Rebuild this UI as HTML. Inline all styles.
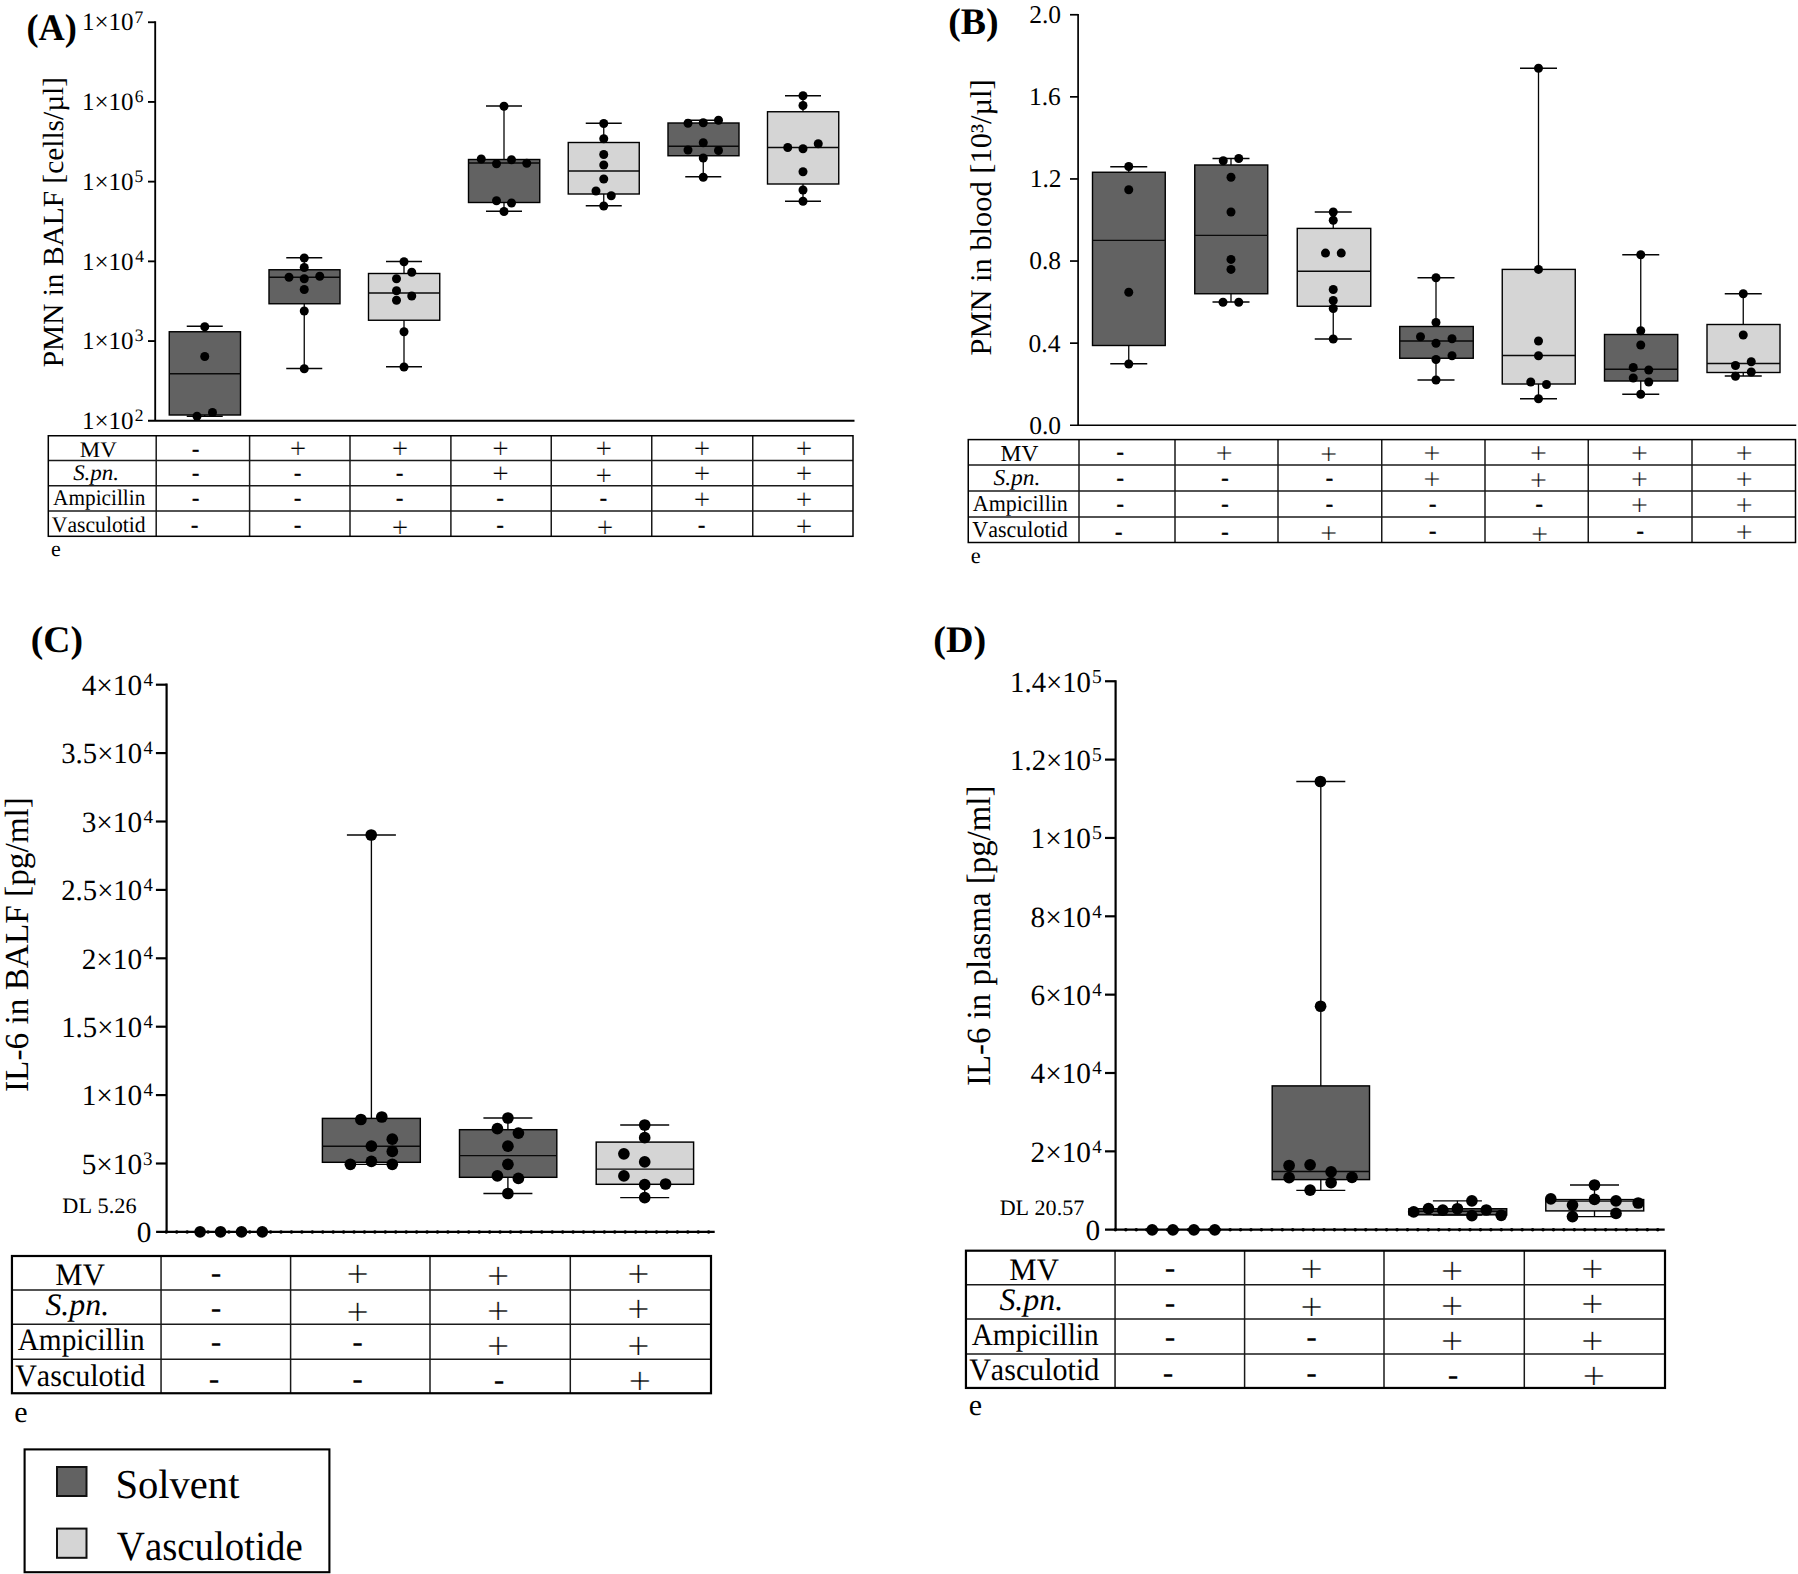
<!DOCTYPE html>
<html lang="en"><head><meta charset="utf-8"><title>Figure</title>
<style>
html,body{margin:0;padding:0;background:#fff}
svg{display:block}
text{font-family:"Liberation Serif",serif;fill:#000;font-kerning:none;text-rendering:geometricPrecision}
</style></head><body>
<svg width="1798" height="1574" viewBox="0 0 1798 1574">
<rect width="1798" height="1574" fill="#fff"/>
<g id="panelA">
<line x1="155.20" y1="21.25" x2="155.20" y2="420.75" stroke="#000" stroke-width="1.85"/>
<line x1="148.00" y1="420.75" x2="854.50" y2="420.75" stroke="#000" stroke-width="1.85"/>
<line x1="148.00" y1="22.25" x2="155.20" y2="22.25" stroke="#000" stroke-width="1.85"/>
<line x1="148.00" y1="101.95" x2="155.20" y2="101.95" stroke="#000" stroke-width="1.85"/>
<line x1="148.00" y1="181.65" x2="155.20" y2="181.65" stroke="#000" stroke-width="1.85"/>
<line x1="148.00" y1="261.35" x2="155.20" y2="261.35" stroke="#000" stroke-width="1.85"/>
<line x1="148.00" y1="341.05" x2="155.20" y2="341.05" stroke="#000" stroke-width="1.85"/>
<text transform="translate(81.95,30.45)" font-size="25">1×10<tspan x="52.49" y="-7.80" font-size="17.5">7</tspan></text>
<text transform="translate(81.95,110.15)" font-size="25">1×10<tspan x="52.90" y="-7.80" font-size="17.5">6</tspan></text>
<text transform="translate(81.95,189.85)" font-size="25">1×10<tspan x="52.63" y="-7.80" font-size="17.5">5</tspan></text>
<text transform="translate(81.95,269.55)" font-size="25">1×10<tspan x="53.31" y="-7.80" font-size="17.5">4</tspan></text>
<text transform="translate(81.95,349.25)" font-size="25">1×10<tspan x="52.81" y="-7.80" font-size="17.5">3</tspan></text>
<text transform="translate(81.95,428.95)" font-size="25">1×10<tspan x="52.88" y="-7.80" font-size="17.5">2</tspan></text>
<text transform="translate(62.80,367.35) rotate(-90) scale(1.0069,1)" font-size="29.2">PMN in BALF [cells/µl]</text>
<text transform="translate(26.40,39.60) scale(0.9680,1)" font-size="37.5" font-weight="bold">(A)</text>
<line x1="204.75" y1="326.25" x2="204.75" y2="331.75" stroke="#050505" stroke-width="1.3"/>
<line x1="186.75" y1="326.25" x2="222.75" y2="326.25" stroke="#050505" stroke-width="1.3"/>
<line x1="204.75" y1="415.00" x2="204.75" y2="416.25" stroke="#050505" stroke-width="1.3"/>
<line x1="186.75" y1="416.25" x2="222.75" y2="416.25" stroke="#050505" stroke-width="1.3"/>
<rect x="169.25" y="331.75" width="71.25" height="83.25" fill="#626262" stroke="#000" stroke-width="1.4000000000000001"/>
<line x1="169.25" y1="373.75" x2="240.50" y2="373.75" stroke="#0a0a0a" stroke-width="1.3"/>
<line x1="304.25" y1="257.75" x2="304.25" y2="269.75" stroke="#050505" stroke-width="1.3"/>
<line x1="286.25" y1="257.75" x2="322.25" y2="257.75" stroke="#050505" stroke-width="1.3"/>
<line x1="304.25" y1="303.75" x2="304.25" y2="368.50" stroke="#050505" stroke-width="1.3"/>
<line x1="286.25" y1="368.50" x2="322.25" y2="368.50" stroke="#050505" stroke-width="1.3"/>
<rect x="269.00" y="269.75" width="71.00" height="34.00" fill="#626262" stroke="#000" stroke-width="1.4000000000000001"/>
<line x1="269.00" y1="277.25" x2="340.00" y2="277.25" stroke="#0a0a0a" stroke-width="1.3"/>
<line x1="404.00" y1="261.50" x2="404.00" y2="273.50" stroke="#050505" stroke-width="1.3"/>
<line x1="386.00" y1="261.50" x2="422.00" y2="261.50" stroke="#050505" stroke-width="1.3"/>
<line x1="404.00" y1="320.25" x2="404.00" y2="366.75" stroke="#050505" stroke-width="1.3"/>
<line x1="386.00" y1="366.75" x2="422.00" y2="366.75" stroke="#050505" stroke-width="1.3"/>
<rect x="368.50" y="273.50" width="71.25" height="46.75" fill="#d5d5d5" stroke="#000" stroke-width="1.4000000000000001"/>
<line x1="368.50" y1="293.00" x2="439.75" y2="293.00" stroke="#0a0a0a" stroke-width="1.3"/>
<line x1="504.00" y1="106.00" x2="504.00" y2="159.50" stroke="#050505" stroke-width="1.3"/>
<line x1="486.00" y1="106.00" x2="522.00" y2="106.00" stroke="#050505" stroke-width="1.3"/>
<line x1="504.00" y1="202.50" x2="504.00" y2="211.25" stroke="#050505" stroke-width="1.3"/>
<line x1="486.00" y1="211.25" x2="522.00" y2="211.25" stroke="#050505" stroke-width="1.3"/>
<rect x="468.50" y="159.50" width="71.25" height="43.00" fill="#626262" stroke="#000" stroke-width="1.4000000000000001"/>
<line x1="468.50" y1="163.00" x2="539.75" y2="163.00" stroke="#0a0a0a" stroke-width="1.3"/>
<line x1="603.75" y1="123.25" x2="603.75" y2="142.50" stroke="#050505" stroke-width="1.3"/>
<line x1="585.75" y1="123.25" x2="621.75" y2="123.25" stroke="#050505" stroke-width="1.3"/>
<line x1="603.75" y1="194.00" x2="603.75" y2="205.75" stroke="#050505" stroke-width="1.3"/>
<line x1="585.75" y1="205.75" x2="621.75" y2="205.75" stroke="#050505" stroke-width="1.3"/>
<rect x="568.25" y="142.50" width="71.00" height="51.50" fill="#d5d5d5" stroke="#000" stroke-width="1.4000000000000001"/>
<line x1="568.25" y1="171.00" x2="639.25" y2="171.00" stroke="#0a0a0a" stroke-width="1.3"/>
<line x1="703.25" y1="120.25" x2="703.25" y2="123.00" stroke="#050505" stroke-width="1.3"/>
<line x1="685.25" y1="120.25" x2="721.25" y2="120.25" stroke="#050505" stroke-width="1.3"/>
<line x1="703.25" y1="155.75" x2="703.25" y2="176.75" stroke="#050505" stroke-width="1.3"/>
<line x1="685.25" y1="176.75" x2="721.25" y2="176.75" stroke="#050505" stroke-width="1.3"/>
<rect x="668.00" y="123.00" width="71.00" height="32.75" fill="#626262" stroke="#000" stroke-width="1.4000000000000001"/>
<line x1="668.00" y1="146.25" x2="739.00" y2="146.25" stroke="#0a0a0a" stroke-width="1.3"/>
<line x1="803.00" y1="95.75" x2="803.00" y2="111.75" stroke="#050505" stroke-width="1.3"/>
<line x1="785.00" y1="95.75" x2="821.00" y2="95.75" stroke="#050505" stroke-width="1.3"/>
<line x1="803.00" y1="184.00" x2="803.00" y2="201.25" stroke="#050505" stroke-width="1.3"/>
<line x1="785.00" y1="201.25" x2="821.00" y2="201.25" stroke="#050505" stroke-width="1.3"/>
<rect x="767.50" y="111.75" width="71.25" height="72.25" fill="#d5d5d5" stroke="#000" stroke-width="1.4000000000000001"/>
<line x1="767.50" y1="147.50" x2="838.75" y2="147.50" stroke="#0a0a0a" stroke-width="1.3"/>
<circle cx="204.75" cy="326.75" r="4.5"/>
<circle cx="204.75" cy="356.50" r="4.5"/>
<circle cx="212.50" cy="412.50" r="4.5"/>
<circle cx="197.00" cy="416.25" r="4.5"/>
<circle cx="304.25" cy="258.00" r="4.5"/>
<circle cx="304.25" cy="267.50" r="4.5"/>
<circle cx="289.00" cy="277.25" r="4.5"/>
<circle cx="304.25" cy="278.75" r="4.5"/>
<circle cx="319.75" cy="276.25" r="4.5"/>
<circle cx="304.25" cy="289.50" r="4.5"/>
<circle cx="304.25" cy="311.00" r="4.5"/>
<circle cx="304.25" cy="368.75" r="4.5"/>
<circle cx="404.00" cy="261.75" r="4.5"/>
<circle cx="411.75" cy="272.25" r="4.5"/>
<circle cx="396.50" cy="278.75" r="4.5"/>
<circle cx="396.50" cy="290.75" r="4.5"/>
<circle cx="411.75" cy="296.00" r="4.5"/>
<circle cx="396.50" cy="300.25" r="4.5"/>
<circle cx="404.00" cy="331.75" r="4.5"/>
<circle cx="404.00" cy="367.00" r="4.5"/>
<circle cx="504.00" cy="106.25" r="4.5"/>
<circle cx="481.25" cy="159.00" r="4.5"/>
<circle cx="496.50" cy="163.75" r="4.5"/>
<circle cx="511.50" cy="159.75" r="4.5"/>
<circle cx="526.75" cy="163.25" r="4.5"/>
<circle cx="496.50" cy="200.75" r="4.5"/>
<circle cx="511.50" cy="203.00" r="4.5"/>
<circle cx="504.00" cy="211.50" r="4.5"/>
<circle cx="603.75" cy="123.50" r="4.5"/>
<circle cx="603.75" cy="138.75" r="4.5"/>
<circle cx="603.75" cy="154.50" r="4.5"/>
<circle cx="603.75" cy="165.00" r="4.5"/>
<circle cx="603.75" cy="179.00" r="4.5"/>
<circle cx="596.00" cy="191.00" r="4.5"/>
<circle cx="611.25" cy="195.75" r="4.5"/>
<circle cx="603.75" cy="206.00" r="4.5"/>
<circle cx="688.00" cy="123.25" r="4.5"/>
<circle cx="703.25" cy="122.75" r="4.5"/>
<circle cx="718.50" cy="120.25" r="4.5"/>
<circle cx="703.25" cy="142.75" r="4.5"/>
<circle cx="688.00" cy="150.00" r="4.5"/>
<circle cx="718.50" cy="150.50" r="4.5"/>
<circle cx="703.25" cy="158.00" r="4.5"/>
<circle cx="703.25" cy="177.25" r="4.5"/>
<circle cx="803.00" cy="95.75" r="4.5"/>
<circle cx="803.00" cy="105.50" r="4.5"/>
<circle cx="787.75" cy="147.50" r="4.5"/>
<circle cx="803.00" cy="148.75" r="4.5"/>
<circle cx="818.25" cy="143.75" r="4.5"/>
<circle cx="803.00" cy="171.75" r="4.5"/>
<circle cx="803.00" cy="190.00" r="4.5"/>
<circle cx="803.00" cy="201.25" r="4.5"/>
<line x1="48.30" y1="460.60" x2="853.00" y2="460.60" stroke="#1a1a1a" stroke-width="1.5"/>
<line x1="48.30" y1="485.70" x2="853.00" y2="485.70" stroke="#1a1a1a" stroke-width="1.5"/>
<line x1="48.30" y1="511.00" x2="853.00" y2="511.00" stroke="#1a1a1a" stroke-width="1.5"/>
<line x1="156.20" y1="435.75" x2="156.20" y2="536.30" stroke="#1a1a1a" stroke-width="1.5"/>
<line x1="249.60" y1="435.75" x2="249.60" y2="536.30" stroke="#1a1a1a" stroke-width="1.5"/>
<line x1="350.00" y1="435.75" x2="350.00" y2="536.30" stroke="#1a1a1a" stroke-width="1.5"/>
<line x1="450.90" y1="435.75" x2="450.90" y2="536.30" stroke="#1a1a1a" stroke-width="1.5"/>
<line x1="551.25" y1="435.75" x2="551.25" y2="536.30" stroke="#1a1a1a" stroke-width="1.5"/>
<line x1="651.75" y1="435.75" x2="651.75" y2="536.30" stroke="#1a1a1a" stroke-width="1.5"/>
<line x1="752.75" y1="435.75" x2="752.75" y2="536.30" stroke="#1a1a1a" stroke-width="1.5"/>
<rect x="48.30" y="435.75" width="804.70" height="100.55" fill="none" stroke="#000" stroke-width="1.5"/>
<text transform="translate(79.84,456.80) scale(1.0274,1)" font-size="22.3">MV</text>
<text transform="translate(73.13,480.30) scale(1.0301,1)" font-size="22.3" font-style="italic">S.pn.</text>
<text transform="translate(53.09,505.20) scale(0.9545,1)" font-size="22.3">Ampicillin</text>
<text transform="translate(51.76,531.70) scale(0.9720,1)" font-size="22.3">Vasculotid</text>
<text transform="translate(50.89,556.25)" font-size="22">e</text>
<text x="191.88" y="455.61" font-size="21.71" font-weight="bold" stroke="#000" stroke-width="0.36">-</text>
<text x="289.83" y="458.42" font-size="29.26" stroke="#fff" stroke-width="0.26">+</text>
<text x="391.83" y="458.42" font-size="29.26" stroke="#fff" stroke-width="0.26">+</text>
<text x="492.33" y="458.42" font-size="29.26" stroke="#fff" stroke-width="0.26">+</text>
<text x="595.58" y="458.42" font-size="29.26" stroke="#fff" stroke-width="0.26">+</text>
<text x="693.83" y="458.42" font-size="29.26" stroke="#fff" stroke-width="0.26">+</text>
<text x="795.83" y="458.42" font-size="29.26" stroke="#fff" stroke-width="0.26">+</text>
<text x="191.88" y="480.36" font-size="21.71" font-weight="bold" stroke="#000" stroke-width="0.36">-</text>
<text x="293.98" y="480.36" font-size="21.71" font-weight="bold" stroke="#000" stroke-width="0.36">-</text>
<text x="395.98" y="480.36" font-size="21.71" font-weight="bold" stroke="#000" stroke-width="0.36">-</text>
<text x="492.33" y="483.42" font-size="29.26" stroke="#fff" stroke-width="0.26">+</text>
<text x="595.58" y="484.92" font-size="29.26" stroke="#fff" stroke-width="0.26">+</text>
<text x="693.83" y="483.42" font-size="29.26" stroke="#fff" stroke-width="0.26">+</text>
<text x="795.83" y="483.42" font-size="29.26" stroke="#fff" stroke-width="0.26">+</text>
<text x="191.88" y="505.36" font-size="21.71" font-weight="bold" stroke="#000" stroke-width="0.36">-</text>
<text x="293.98" y="505.36" font-size="21.71" font-weight="bold" stroke="#000" stroke-width="0.36">-</text>
<text x="395.98" y="505.36" font-size="21.71" font-weight="bold" stroke="#000" stroke-width="0.36">-</text>
<text x="496.48" y="505.36" font-size="21.71" font-weight="bold" stroke="#000" stroke-width="0.36">-</text>
<text x="599.73" y="505.36" font-size="21.71" font-weight="bold" stroke="#000" stroke-width="0.36">-</text>
<text x="693.83" y="509.42" font-size="29.26" stroke="#fff" stroke-width="0.26">+</text>
<text x="795.83" y="509.42" font-size="29.26" stroke="#fff" stroke-width="0.26">+</text>
<text x="190.88" y="531.61" font-size="21.71" font-weight="bold" stroke="#000" stroke-width="0.36">-</text>
<text x="293.98" y="531.61" font-size="21.71" font-weight="bold" stroke="#000" stroke-width="0.36">-</text>
<text x="391.83" y="536.72" font-size="29.26" stroke="#fff" stroke-width="0.26">+</text>
<text x="496.48" y="531.61" font-size="21.71" font-weight="bold" stroke="#000" stroke-width="0.36">-</text>
<text x="596.78" y="537.17" font-size="29.26" stroke="#fff" stroke-width="0.26">+</text>
<text x="697.98" y="531.61" font-size="21.71" font-weight="bold" stroke="#000" stroke-width="0.36">-</text>
<text x="795.83" y="536.17" font-size="29.26" stroke="#fff" stroke-width="0.26">+</text>
</g>
<g id="panelB">
<line x1="1078.10" y1="13.95" x2="1078.10" y2="425.25" stroke="#000" stroke-width="1.7"/>
<line x1="1070.00" y1="425.25" x2="1796.25" y2="425.25" stroke="#000" stroke-width="1.7"/>
<line x1="1070.00" y1="14.75" x2="1078.10" y2="14.75" stroke="#000" stroke-width="1.7"/>
<line x1="1070.00" y1="96.85" x2="1078.10" y2="96.85" stroke="#000" stroke-width="1.7"/>
<line x1="1070.00" y1="178.95" x2="1078.10" y2="178.95" stroke="#000" stroke-width="1.7"/>
<line x1="1070.00" y1="261.05" x2="1078.10" y2="261.05" stroke="#000" stroke-width="1.7"/>
<line x1="1070.00" y1="343.15" x2="1078.10" y2="343.15" stroke="#000" stroke-width="1.7"/>
<text transform="translate(1029.20,23.15)" font-size="25.5">2.0</text>
<text transform="translate(1028.98,105.25)" font-size="25.5">1.6</text>
<text transform="translate(1029.63,187.35)" font-size="25.5">1.2</text>
<text transform="translate(1029.20,269.45)" font-size="25.5">0.8</text>
<text transform="translate(1028.62,351.55)" font-size="25.5">0.4</text>
<text transform="translate(1029.20,433.65)" font-size="25.5">0.0</text>
<text transform="translate(991.00,355.48) rotate(-90) scale(1.0147,1)" font-size="30">PMN in blood [10³/µl]</text>
<text transform="translate(948.14,33.80) scale(1.0087,1)" font-size="37.5" font-weight="bold">(B)</text>
<line x1="1128.75" y1="166.75" x2="1128.75" y2="172.25" stroke="#050505" stroke-width="1.3"/>
<line x1="1110.25" y1="166.75" x2="1147.25" y2="166.75" stroke="#050505" stroke-width="1.3"/>
<line x1="1128.75" y1="345.50" x2="1128.75" y2="363.75" stroke="#050505" stroke-width="1.3"/>
<line x1="1110.25" y1="363.75" x2="1147.25" y2="363.75" stroke="#050505" stroke-width="1.3"/>
<rect x="1092.50" y="172.25" width="72.75" height="173.25" fill="#626262" stroke="#000" stroke-width="1.4000000000000001"/>
<line x1="1092.50" y1="240.40" x2="1165.25" y2="240.40" stroke="#0a0a0a" stroke-width="1.3"/>
<line x1="1231.00" y1="158.50" x2="1231.00" y2="165.00" stroke="#050505" stroke-width="1.3"/>
<line x1="1212.50" y1="158.50" x2="1249.50" y2="158.50" stroke="#050505" stroke-width="1.3"/>
<line x1="1231.00" y1="293.75" x2="1231.00" y2="302.00" stroke="#050505" stroke-width="1.3"/>
<line x1="1212.50" y1="302.00" x2="1249.50" y2="302.00" stroke="#050505" stroke-width="1.3"/>
<rect x="1194.75" y="165.00" width="73.00" height="128.75" fill="#626262" stroke="#000" stroke-width="1.4000000000000001"/>
<line x1="1194.75" y1="235.40" x2="1267.75" y2="235.40" stroke="#0a0a0a" stroke-width="1.3"/>
<line x1="1333.25" y1="212.00" x2="1333.25" y2="228.40" stroke="#050505" stroke-width="1.3"/>
<line x1="1314.75" y1="212.00" x2="1351.75" y2="212.00" stroke="#050505" stroke-width="1.3"/>
<line x1="1333.25" y1="306.25" x2="1333.25" y2="339.00" stroke="#050505" stroke-width="1.3"/>
<line x1="1314.75" y1="339.00" x2="1351.75" y2="339.00" stroke="#050505" stroke-width="1.3"/>
<rect x="1297.25" y="228.40" width="73.50" height="77.85" fill="#d5d5d5" stroke="#000" stroke-width="1.4000000000000001"/>
<line x1="1297.25" y1="271.25" x2="1370.75" y2="271.25" stroke="#0a0a0a" stroke-width="1.3"/>
<line x1="1436.00" y1="277.75" x2="1436.00" y2="326.50" stroke="#050505" stroke-width="1.3"/>
<line x1="1417.50" y1="277.75" x2="1454.50" y2="277.75" stroke="#050505" stroke-width="1.3"/>
<line x1="1436.00" y1="358.25" x2="1436.00" y2="380.00" stroke="#050505" stroke-width="1.3"/>
<line x1="1417.50" y1="380.00" x2="1454.50" y2="380.00" stroke="#050505" stroke-width="1.3"/>
<rect x="1399.75" y="326.50" width="73.50" height="31.75" fill="#626262" stroke="#000" stroke-width="1.4000000000000001"/>
<line x1="1399.75" y1="341.00" x2="1473.25" y2="341.00" stroke="#0a0a0a" stroke-width="1.3"/>
<line x1="1538.50" y1="68.25" x2="1538.50" y2="269.40" stroke="#050505" stroke-width="1.3"/>
<line x1="1520.00" y1="68.25" x2="1557.00" y2="68.25" stroke="#050505" stroke-width="1.3"/>
<line x1="1538.50" y1="384.00" x2="1538.50" y2="398.75" stroke="#050505" stroke-width="1.3"/>
<line x1="1520.00" y1="398.75" x2="1557.00" y2="398.75" stroke="#050505" stroke-width="1.3"/>
<rect x="1502.25" y="269.40" width="73.00" height="114.60" fill="#d5d5d5" stroke="#000" stroke-width="1.4000000000000001"/>
<line x1="1502.25" y1="355.50" x2="1575.25" y2="355.50" stroke="#0a0a0a" stroke-width="1.3"/>
<line x1="1640.75" y1="254.75" x2="1640.75" y2="334.50" stroke="#050505" stroke-width="1.3"/>
<line x1="1622.25" y1="254.75" x2="1659.25" y2="254.75" stroke="#050505" stroke-width="1.3"/>
<line x1="1640.75" y1="381.00" x2="1640.75" y2="394.25" stroke="#050505" stroke-width="1.3"/>
<line x1="1622.25" y1="394.25" x2="1659.25" y2="394.25" stroke="#050505" stroke-width="1.3"/>
<rect x="1604.50" y="334.50" width="73.25" height="46.50" fill="#626262" stroke="#000" stroke-width="1.4000000000000001"/>
<line x1="1604.50" y1="369.25" x2="1677.75" y2="369.25" stroke="#0a0a0a" stroke-width="1.3"/>
<line x1="1743.25" y1="293.75" x2="1743.25" y2="324.50" stroke="#050505" stroke-width="1.3"/>
<line x1="1724.75" y1="293.75" x2="1761.75" y2="293.75" stroke="#050505" stroke-width="1.3"/>
<line x1="1743.25" y1="372.50" x2="1743.25" y2="376.00" stroke="#050505" stroke-width="1.3"/>
<line x1="1724.75" y1="376.00" x2="1761.75" y2="376.00" stroke="#050505" stroke-width="1.3"/>
<rect x="1707.00" y="324.50" width="73.00" height="48.00" fill="#d5d5d5" stroke="#000" stroke-width="1.4000000000000001"/>
<line x1="1707.00" y1="363.50" x2="1780.00" y2="363.50" stroke="#0a0a0a" stroke-width="1.3"/>
<circle cx="1128.75" cy="166.50" r="4.5"/>
<circle cx="1128.75" cy="189.75" r="4.5"/>
<circle cx="1128.75" cy="292.25" r="4.5"/>
<circle cx="1128.75" cy="364.00" r="4.5"/>
<circle cx="1223.25" cy="160.75" r="4.5"/>
<circle cx="1238.75" cy="158.50" r="4.5"/>
<circle cx="1231.00" cy="177.25" r="4.5"/>
<circle cx="1231.00" cy="212.00" r="4.5"/>
<circle cx="1231.00" cy="259.40" r="4.5"/>
<circle cx="1231.00" cy="269.40" r="4.5"/>
<circle cx="1223.00" cy="302.25" r="4.5"/>
<circle cx="1238.75" cy="302.25" r="4.5"/>
<circle cx="1333.25" cy="212.00" r="4.5"/>
<circle cx="1333.25" cy="220.25" r="4.5"/>
<circle cx="1325.50" cy="253.10" r="4.5"/>
<circle cx="1341.25" cy="253.10" r="4.5"/>
<circle cx="1333.25" cy="289.50" r="4.5"/>
<circle cx="1333.25" cy="300.50" r="4.5"/>
<circle cx="1333.25" cy="308.50" r="4.5"/>
<circle cx="1333.25" cy="339.00" r="4.5"/>
<circle cx="1436.00" cy="277.75" r="4.5"/>
<circle cx="1436.00" cy="322.50" r="4.5"/>
<circle cx="1420.50" cy="336.75" r="4.5"/>
<circle cx="1436.00" cy="343.25" r="4.5"/>
<circle cx="1452.00" cy="338.75" r="4.5"/>
<circle cx="1452.00" cy="355.75" r="4.5"/>
<circle cx="1436.00" cy="359.50" r="4.5"/>
<circle cx="1436.00" cy="380.00" r="4.5"/>
<circle cx="1538.50" cy="68.25" r="4.5"/>
<circle cx="1538.50" cy="269.40" r="4.5"/>
<circle cx="1538.50" cy="341.00" r="4.5"/>
<circle cx="1538.50" cy="355.75" r="4.5"/>
<circle cx="1530.75" cy="382.00" r="4.5"/>
<circle cx="1546.50" cy="384.50" r="4.5"/>
<circle cx="1538.50" cy="398.75" r="4.5"/>
<circle cx="1640.75" cy="254.75" r="4.5"/>
<circle cx="1640.75" cy="330.75" r="4.5"/>
<circle cx="1640.75" cy="345.00" r="4.5"/>
<circle cx="1633.25" cy="367.50" r="4.5"/>
<circle cx="1648.75" cy="370.00" r="4.5"/>
<circle cx="1633.25" cy="378.00" r="4.5"/>
<circle cx="1648.75" cy="382.00" r="4.5"/>
<circle cx="1640.75" cy="394.25" r="4.5"/>
<circle cx="1743.25" cy="293.75" r="4.5"/>
<circle cx="1743.25" cy="335.00" r="4.5"/>
<circle cx="1751.25" cy="361.75" r="4.5"/>
<circle cx="1735.50" cy="365.50" r="4.5"/>
<circle cx="1751.25" cy="372.00" r="4.5"/>
<circle cx="1735.50" cy="376.25" r="4.5"/>
<line x1="968.25" y1="465.00" x2="1795.50" y2="465.00" stroke="#1a1a1a" stroke-width="1.5"/>
<line x1="968.25" y1="491.00" x2="1795.50" y2="491.00" stroke="#1a1a1a" stroke-width="1.5"/>
<line x1="968.25" y1="517.00" x2="1795.50" y2="517.00" stroke="#1a1a1a" stroke-width="1.5"/>
<line x1="1079.00" y1="439.60" x2="1079.00" y2="542.50" stroke="#1a1a1a" stroke-width="1.5"/>
<line x1="1175.00" y1="439.60" x2="1175.00" y2="542.50" stroke="#1a1a1a" stroke-width="1.5"/>
<line x1="1278.00" y1="439.60" x2="1278.00" y2="542.50" stroke="#1a1a1a" stroke-width="1.5"/>
<line x1="1381.75" y1="439.60" x2="1381.75" y2="542.50" stroke="#1a1a1a" stroke-width="1.5"/>
<line x1="1485.00" y1="439.60" x2="1485.00" y2="542.50" stroke="#1a1a1a" stroke-width="1.5"/>
<line x1="1588.25" y1="439.60" x2="1588.25" y2="542.50" stroke="#1a1a1a" stroke-width="1.5"/>
<line x1="1692.00" y1="439.60" x2="1692.00" y2="542.50" stroke="#1a1a1a" stroke-width="1.5"/>
<rect x="968.25" y="439.60" width="827.25" height="102.90" fill="none" stroke="#000" stroke-width="1.5"/>
<text transform="translate(1000.58,460.50) scale(1.0272,1)" font-size="22.8">MV</text>
<text transform="translate(993.48,485.00) scale(1.0283,1)" font-size="22.8" font-style="italic">S.pn.</text>
<text transform="translate(972.79,510.75) scale(0.9621,1)" font-size="22.8">Ampicillin</text>
<text transform="translate(972.25,537.00) scale(0.9669,1)" font-size="22.8">Vasculotid</text>
<text transform="translate(970.87,562.50)" font-size="22.5">e</text>
<text x="1116.40" y="459.23" font-size="22.21" font-weight="bold" stroke="#000" stroke-width="0.36">-</text>
<text x="1215.80" y="462.69" font-size="29.93" stroke="#fff" stroke-width="0.27">+</text>
<text x="1320.30" y="464.44" font-size="29.93" stroke="#fff" stroke-width="0.27">+</text>
<text x="1423.55" y="462.69" font-size="29.93" stroke="#fff" stroke-width="0.27">+</text>
<text x="1530.05" y="462.69" font-size="29.93" stroke="#fff" stroke-width="0.27">+</text>
<text x="1631.05" y="462.69" font-size="29.93" stroke="#fff" stroke-width="0.27">+</text>
<text x="1735.80" y="462.69" font-size="29.93" stroke="#fff" stroke-width="0.27">+</text>
<text x="1116.40" y="484.73" font-size="22.21" font-weight="bold" stroke="#000" stroke-width="0.36">-</text>
<text x="1221.15" y="484.73" font-size="22.21" font-weight="bold" stroke="#000" stroke-width="0.36">-</text>
<text x="1325.65" y="484.73" font-size="22.21" font-weight="bold" stroke="#000" stroke-width="0.36">-</text>
<text x="1423.55" y="488.94" font-size="29.93" stroke="#fff" stroke-width="0.27">+</text>
<text x="1530.05" y="490.44" font-size="29.93" stroke="#fff" stroke-width="0.27">+</text>
<text x="1631.05" y="488.94" font-size="29.93" stroke="#fff" stroke-width="0.27">+</text>
<text x="1735.80" y="488.94" font-size="29.93" stroke="#fff" stroke-width="0.27">+</text>
<text x="1116.40" y="510.83" font-size="22.21" font-weight="bold" stroke="#000" stroke-width="0.36">-</text>
<text x="1221.15" y="510.83" font-size="22.21" font-weight="bold" stroke="#000" stroke-width="0.36">-</text>
<text x="1325.65" y="510.83" font-size="22.21" font-weight="bold" stroke="#000" stroke-width="0.36">-</text>
<text x="1428.90" y="510.83" font-size="22.21" font-weight="bold" stroke="#000" stroke-width="0.36">-</text>
<text x="1535.40" y="510.83" font-size="22.21" font-weight="bold" stroke="#000" stroke-width="0.36">-</text>
<text x="1631.05" y="514.94" font-size="29.93" stroke="#fff" stroke-width="0.27">+</text>
<text x="1735.80" y="514.94" font-size="29.93" stroke="#fff" stroke-width="0.27">+</text>
<text x="1114.90" y="538.73" font-size="22.21" font-weight="bold" stroke="#000" stroke-width="0.36">-</text>
<text x="1221.15" y="538.73" font-size="22.21" font-weight="bold" stroke="#000" stroke-width="0.36">-</text>
<text x="1320.30" y="543.44" font-size="29.93" stroke="#fff" stroke-width="0.27">+</text>
<text x="1428.90" y="538.23" font-size="22.21" font-weight="bold" stroke="#000" stroke-width="0.36">-</text>
<text x="1531.25" y="544.44" font-size="29.93" stroke="#fff" stroke-width="0.27">+</text>
<text x="1636.40" y="538.23" font-size="22.21" font-weight="bold" stroke="#000" stroke-width="0.36">-</text>
<text x="1735.80" y="542.44" font-size="29.93" stroke="#fff" stroke-width="0.27">+</text>
</g>
<g id="panelC">
<line x1="166.60" y1="683.60" x2="166.60" y2="1231.90" stroke="#000" stroke-width="2.2"/>
<line x1="156.10" y1="1231.90" x2="714.70" y2="1231.90" stroke="#000" stroke-width="2.2"/>
<line x1="155.90" y1="684.70" x2="166.60" y2="684.70" stroke="#000" stroke-width="2.2"/>
<line x1="155.90" y1="753.10" x2="166.60" y2="753.10" stroke="#000" stroke-width="2.2"/>
<line x1="155.90" y1="821.50" x2="166.60" y2="821.50" stroke="#000" stroke-width="2.2"/>
<line x1="155.90" y1="889.90" x2="166.60" y2="889.90" stroke="#000" stroke-width="2.2"/>
<line x1="155.90" y1="958.30" x2="166.60" y2="958.30" stroke="#000" stroke-width="2.2"/>
<line x1="155.90" y1="1026.70" x2="166.60" y2="1026.70" stroke="#000" stroke-width="2.2"/>
<line x1="155.90" y1="1095.10" x2="166.60" y2="1095.10" stroke="#000" stroke-width="2.2"/>
<line x1="155.90" y1="1163.50" x2="166.60" y2="1163.50" stroke="#000" stroke-width="2.2"/>
<text transform="translate(81.64,695.00)" font-size="29.3">4×10<tspan x="61.84" y="-9.20" font-size="19">4</tspan></text>
<text transform="translate(61.21,763.40) scale(0.9810,1)" font-size="29.3">3.5×10<tspan x="83.86" y="-9.20" font-size="19">4</tspan></text>
<text transform="translate(81.64,831.80)" font-size="29.3">3×10<tspan x="61.84" y="-9.20" font-size="19">4</tspan></text>
<text transform="translate(61.21,900.20) scale(0.9810,1)" font-size="29.3">2.5×10<tspan x="83.86" y="-9.20" font-size="19">4</tspan></text>
<text transform="translate(81.64,968.60)" font-size="29.3">2×10<tspan x="61.84" y="-9.20" font-size="19">4</tspan></text>
<text transform="translate(61.21,1037.00) scale(0.9810,1)" font-size="29.3">1.5×10<tspan x="83.86" y="-9.20" font-size="19">4</tspan></text>
<text transform="translate(81.64,1105.40)" font-size="29.3">1×10<tspan x="61.84" y="-9.20" font-size="19">4</tspan></text>
<text transform="translate(81.64,1173.80)" font-size="29.3">5×10<tspan x="61.30" y="-9.20" font-size="19">3</tspan></text>
<text transform="translate(136.77,1242.10)" font-size="29.3">0</text>
<text transform="translate(28.30,1092.00) rotate(-90) scale(0.9912,1)" font-size="33.6">IL-6 in BALF [pg/ml]</text>
<text transform="translate(30.85,652.30) scale(1.0029,1)" font-size="37.5" font-weight="bold">(C)</text>
<text transform="translate(62.36,1213.20) scale(1.0120,1)" font-size="22">DL 5.26</text>
<line x1="166.3" y1="1231.9" x2="710" y2="1231.9" stroke="#000" stroke-width="3.5" stroke-linecap="round" stroke-dasharray="0 10.43"/>
<line x1="371.40" y1="835.00" x2="371.40" y2="1118.40" stroke="#050505" stroke-width="1.35"/>
<line x1="346.90" y1="835.00" x2="395.90" y2="835.00" stroke="#050505" stroke-width="1.35"/>
<line x1="371.40" y1="1162.30" x2="371.40" y2="1164.30" stroke="#050505" stroke-width="1.35"/>
<line x1="346.90" y1="1164.30" x2="395.90" y2="1164.30" stroke="#050505" stroke-width="1.35"/>
<rect x="322.40" y="1118.40" width="97.90" height="43.90" fill="#626262" stroke="#000" stroke-width="1.4500000000000002"/>
<line x1="322.40" y1="1146.20" x2="420.30" y2="1146.20" stroke="#0a0a0a" stroke-width="1.35"/>
<line x1="507.90" y1="1118.00" x2="507.90" y2="1129.70" stroke="#050505" stroke-width="1.35"/>
<line x1="483.40" y1="1118.00" x2="532.40" y2="1118.00" stroke="#050505" stroke-width="1.35"/>
<line x1="507.90" y1="1177.30" x2="507.90" y2="1193.50" stroke="#050505" stroke-width="1.35"/>
<line x1="483.40" y1="1193.50" x2="532.40" y2="1193.50" stroke="#050505" stroke-width="1.35"/>
<rect x="459.50" y="1129.70" width="97.30" height="47.60" fill="#626262" stroke="#000" stroke-width="1.4500000000000002"/>
<line x1="459.50" y1="1155.60" x2="556.80" y2="1155.60" stroke="#0a0a0a" stroke-width="1.35"/>
<line x1="644.70" y1="1125.00" x2="644.70" y2="1142.10" stroke="#050505" stroke-width="1.35"/>
<line x1="620.20" y1="1125.00" x2="669.20" y2="1125.00" stroke="#050505" stroke-width="1.35"/>
<line x1="644.70" y1="1184.30" x2="644.70" y2="1197.60" stroke="#050505" stroke-width="1.35"/>
<line x1="620.20" y1="1197.60" x2="669.20" y2="1197.60" stroke="#050505" stroke-width="1.35"/>
<rect x="596.20" y="1142.10" width="97.40" height="42.20" fill="#d5d5d5" stroke="#000" stroke-width="1.4500000000000002"/>
<line x1="596.20" y1="1169.10" x2="693.60" y2="1169.10" stroke="#0a0a0a" stroke-width="1.35"/>
<circle cx="200.10" cy="1231.80" r="5.85"/>
<circle cx="220.60" cy="1231.80" r="5.85"/>
<circle cx="241.50" cy="1231.80" r="5.85"/>
<circle cx="262.30" cy="1231.80" r="5.85"/>
<circle cx="371.20" cy="835.00" r="5.85"/>
<circle cx="360.90" cy="1119.50" r="5.85"/>
<circle cx="381.80" cy="1117.00" r="5.85"/>
<circle cx="392.30" cy="1139.20" r="5.85"/>
<circle cx="371.40" cy="1146.20" r="5.85"/>
<circle cx="392.30" cy="1151.40" r="5.85"/>
<circle cx="371.40" cy="1161.30" r="5.85"/>
<circle cx="350.40" cy="1164.30" r="5.85"/>
<circle cx="392.30" cy="1164.30" r="5.85"/>
<circle cx="507.90" cy="1118.00" r="5.85"/>
<circle cx="497.40" cy="1128.70" r="5.85"/>
<circle cx="518.40" cy="1133.10" r="5.85"/>
<circle cx="507.90" cy="1146.20" r="5.85"/>
<circle cx="507.90" cy="1164.30" r="5.85"/>
<circle cx="497.40" cy="1175.90" r="5.85"/>
<circle cx="518.40" cy="1178.40" r="5.85"/>
<circle cx="507.90" cy="1193.50" r="5.85"/>
<circle cx="644.70" cy="1125.00" r="5.85"/>
<circle cx="644.70" cy="1137.70" r="5.85"/>
<circle cx="623.90" cy="1153.80" r="5.85"/>
<circle cx="644.70" cy="1161.90" r="5.85"/>
<circle cx="623.90" cy="1175.90" r="5.85"/>
<circle cx="644.70" cy="1184.60" r="5.85"/>
<circle cx="665.60" cy="1184.00" r="5.85"/>
<circle cx="644.70" cy="1197.60" r="5.85"/>
</g>
<g id="tableC">
<line x1="11.95" y1="1290.00" x2="711.00" y2="1290.00" stroke="#1a1a1a" stroke-width="1.5"/>
<line x1="11.95" y1="1324.25" x2="711.00" y2="1324.25" stroke="#1a1a1a" stroke-width="1.5"/>
<line x1="11.95" y1="1359.25" x2="711.00" y2="1359.25" stroke="#1a1a1a" stroke-width="1.5"/>
<line x1="161.05" y1="1256.00" x2="161.05" y2="1393.25" stroke="#1a1a1a" stroke-width="1.5"/>
<line x1="290.60" y1="1256.00" x2="290.60" y2="1393.25" stroke="#1a1a1a" stroke-width="1.5"/>
<line x1="430.00" y1="1256.00" x2="430.00" y2="1393.25" stroke="#1a1a1a" stroke-width="1.5"/>
<line x1="570.30" y1="1256.00" x2="570.30" y2="1393.25" stroke="#1a1a1a" stroke-width="1.5"/>
<rect x="11.95" y="1256.00" width="699.05" height="137.25" fill="none" stroke="#000" stroke-width="2.2"/>
<text transform="translate(55.37,1284.80) scale(0.9842,1)" font-size="31.2">MV</text>
<text transform="translate(45.38,1315.00) scale(1.0217,1)" font-size="31.2" font-style="italic">S.pn.</text>
<text transform="translate(17.71,1350.00) scale(0.9393,1)" font-size="31.2">Ampicillin</text>
<text transform="translate(15.16,1385.50) scale(0.9632,1)" font-size="31.2">Vasculotid</text>
<text x="210.64" y="1282.81" font-size="31.90" font-weight="bold">-</text>
<text x="346.39" y="1287.21" font-size="39.34" stroke="#fff" stroke-width="0.37">+</text>
<text x="486.89" y="1289.21" font-size="39.34" stroke="#fff" stroke-width="0.37">+</text>
<text x="627.14" y="1287.21" font-size="39.34" stroke="#fff" stroke-width="0.37">+</text>
<text x="210.64" y="1317.81" font-size="31.90" font-weight="bold">-</text>
<text x="346.39" y="1325.21" font-size="39.34" stroke="#fff" stroke-width="0.37">+</text>
<text x="486.89" y="1324.21" font-size="39.34" stroke="#fff" stroke-width="0.37">+</text>
<text x="627.14" y="1321.96" font-size="39.34" stroke="#fff" stroke-width="0.37">+</text>
<text x="210.64" y="1352.31" font-size="31.90" font-weight="bold">-</text>
<text x="352.14" y="1352.31" font-size="31.90" font-weight="bold">-</text>
<text x="486.89" y="1359.21" font-size="39.34" stroke="#fff" stroke-width="0.37">+</text>
<text x="627.14" y="1359.21" font-size="39.34" stroke="#fff" stroke-width="0.37">+</text>
<text x="208.64" y="1388.56" font-size="31.90" font-weight="bold">-</text>
<text x="352.14" y="1388.56" font-size="31.90" font-weight="bold">-</text>
<text x="493.64" y="1389.81" font-size="31.90" font-weight="bold">-</text>
<text x="628.64" y="1394.46" font-size="39.34" stroke="#fff" stroke-width="0.37">+</text>
<text transform="translate(14.33,1421.75)" font-size="30">e</text>
</g>
<g id="panelD">
<line x1="1115.60" y1="680.15" x2="1115.60" y2="1229.70" stroke="#000" stroke-width="2.2"/>
<line x1="1105.00" y1="1229.70" x2="1664.70" y2="1229.70" stroke="#000" stroke-width="2.2"/>
<line x1="1105.00" y1="681.25" x2="1115.60" y2="681.25" stroke="#000" stroke-width="2.2"/>
<line x1="1105.00" y1="759.60" x2="1115.60" y2="759.60" stroke="#000" stroke-width="2.2"/>
<line x1="1105.00" y1="837.95" x2="1115.60" y2="837.95" stroke="#000" stroke-width="2.2"/>
<line x1="1105.00" y1="916.30" x2="1115.60" y2="916.30" stroke="#000" stroke-width="2.2"/>
<line x1="1105.00" y1="994.65" x2="1115.60" y2="994.65" stroke="#000" stroke-width="2.2"/>
<line x1="1105.00" y1="1073.00" x2="1115.60" y2="1073.00" stroke="#000" stroke-width="2.2"/>
<line x1="1105.00" y1="1151.35" x2="1115.60" y2="1151.35" stroke="#000" stroke-width="2.2"/>
<text transform="translate(1010.11,691.55) scale(0.9810,1)" font-size="29.3">1.4×10<tspan x="83.52" y="-9.00" font-size="19.8">5</tspan></text>
<text transform="translate(1010.11,769.90) scale(0.9810,1)" font-size="29.3">1.2×10<tspan x="83.52" y="-9.00" font-size="19.8">5</tspan></text>
<text transform="translate(1030.54,848.25)" font-size="29.3">1×10<tspan x="61.51" y="-9.00" font-size="19.8">5</tspan></text>
<text transform="translate(1030.54,926.60)" font-size="29.3">8×10<tspan x="61.69" y="-9.00" font-size="19">4</tspan></text>
<text transform="translate(1030.54,1004.95)" font-size="29.3">6×10<tspan x="61.69" y="-9.00" font-size="19">4</tspan></text>
<text transform="translate(1030.54,1083.30)" font-size="29.3">4×10<tspan x="61.69" y="-9.00" font-size="19">4</tspan></text>
<text transform="translate(1030.54,1161.65)" font-size="29.3">2×10<tspan x="61.69" y="-9.00" font-size="19">4</tspan></text>
<text transform="translate(1085.47,1240.10)" font-size="29.3">0</text>
<text transform="translate(990.00,1085.99) rotate(-90) scale(0.9728,1)" font-size="33.8">IL-6 in plasma [pg/ml]</text>
<text transform="translate(933.33,651.75) scale(1.0152,1)" font-size="37.5" font-weight="bold">(D)</text>
<text transform="translate(999.66,1215.20) scale(1.0029,1)" font-size="22">DL 20.57</text>
<line x1="1115.4" y1="1229.7" x2="1660" y2="1229.7" stroke="#000" stroke-width="3.5" stroke-linecap="round" stroke-dasharray="0 10.43"/>
<line x1="1320.80" y1="781.50" x2="1320.80" y2="1085.90" stroke="#050505" stroke-width="1.35"/>
<line x1="1296.30" y1="781.50" x2="1345.30" y2="781.50" stroke="#050505" stroke-width="1.35"/>
<line x1="1320.80" y1="1179.60" x2="1320.80" y2="1190.30" stroke="#050505" stroke-width="1.35"/>
<line x1="1296.30" y1="1190.30" x2="1345.30" y2="1190.30" stroke="#050505" stroke-width="1.35"/>
<rect x="1272.20" y="1085.90" width="97.30" height="93.70" fill="#626262" stroke="#000" stroke-width="1.4500000000000002"/>
<line x1="1272.20" y1="1171.50" x2="1369.50" y2="1171.50" stroke="#0a0a0a" stroke-width="1.35"/>
<line x1="1457.40" y1="1200.80" x2="1457.40" y2="1208.75" stroke="#050505" stroke-width="1.35"/>
<line x1="1432.90" y1="1200.80" x2="1481.90" y2="1200.80" stroke="#050505" stroke-width="1.35"/>
<line x1="1457.40" y1="1214.80" x2="1457.40" y2="1215.10" stroke="#050505" stroke-width="1.35"/>
<line x1="1432.90" y1="1215.10" x2="1481.90" y2="1215.10" stroke="#050505" stroke-width="1.35"/>
<rect x="1408.90" y="1208.75" width="97.80" height="6.05" fill="#626262" stroke="#000" stroke-width="1.4500000000000002"/>
<line x1="1408.90" y1="1211.20" x2="1506.70" y2="1211.20" stroke="#0a0a0a" stroke-width="1.35"/>
<line x1="1594.50" y1="1185.00" x2="1594.50" y2="1199.60" stroke="#050505" stroke-width="1.35"/>
<line x1="1570.00" y1="1185.00" x2="1619.00" y2="1185.00" stroke="#050505" stroke-width="1.35"/>
<line x1="1594.50" y1="1210.90" x2="1594.50" y2="1216.60" stroke="#050505" stroke-width="1.35"/>
<line x1="1570.00" y1="1216.60" x2="1619.00" y2="1216.60" stroke="#050505" stroke-width="1.35"/>
<rect x="1545.80" y="1199.60" width="97.90" height="11.30" fill="#d5d5d5" stroke="#000" stroke-width="1.4500000000000002"/>
<line x1="1545.80" y1="1201.10" x2="1643.70" y2="1201.10" stroke="#0a0a0a" stroke-width="1.35"/>
<circle cx="1152.20" cy="1229.80" r="5.85"/>
<circle cx="1172.90" cy="1229.80" r="5.85"/>
<circle cx="1193.90" cy="1229.80" r="5.85"/>
<circle cx="1214.80" cy="1229.80" r="5.85"/>
<circle cx="1320.40" cy="781.50" r="5.85"/>
<circle cx="1320.60" cy="1006.25" r="5.85"/>
<circle cx="1289.10" cy="1165.50" r="5.85"/>
<circle cx="1310.10" cy="1164.80" r="5.85"/>
<circle cx="1331.10" cy="1171.80" r="5.85"/>
<circle cx="1289.10" cy="1177.60" r="5.85"/>
<circle cx="1352.00" cy="1177.30" r="5.85"/>
<circle cx="1331.10" cy="1182.60" r="5.85"/>
<circle cx="1310.10" cy="1190.20" r="5.85"/>
<circle cx="1413.70" cy="1211.90" r="5.85"/>
<circle cx="1428.50" cy="1208.60" r="5.85"/>
<circle cx="1442.80" cy="1210.20" r="5.85"/>
<circle cx="1457.40" cy="1208.75" r="5.85"/>
<circle cx="1471.90" cy="1200.80" r="5.85"/>
<circle cx="1471.90" cy="1215.55" r="5.85"/>
<circle cx="1486.30" cy="1210.00" r="5.85"/>
<circle cx="1501.20" cy="1215.30" r="5.85"/>
<circle cx="1594.50" cy="1185.00" r="5.85"/>
<circle cx="1550.80" cy="1198.90" r="5.85"/>
<circle cx="1572.50" cy="1205.10" r="5.85"/>
<circle cx="1594.50" cy="1199.40" r="5.85"/>
<circle cx="1616.00" cy="1200.80" r="5.85"/>
<circle cx="1638.20" cy="1203.00" r="5.85"/>
<circle cx="1572.50" cy="1216.60" r="5.85"/>
<circle cx="1616.00" cy="1213.40" r="5.85"/>
</g>
<g id="tableD">
<line x1="965.95" y1="1284.70" x2="1665.00" y2="1284.70" stroke="#1a1a1a" stroke-width="1.5"/>
<line x1="965.95" y1="1318.95" x2="1665.00" y2="1318.95" stroke="#1a1a1a" stroke-width="1.5"/>
<line x1="965.95" y1="1353.95" x2="1665.00" y2="1353.95" stroke="#1a1a1a" stroke-width="1.5"/>
<line x1="1115.05" y1="1250.70" x2="1115.05" y2="1387.95" stroke="#1a1a1a" stroke-width="1.5"/>
<line x1="1244.60" y1="1250.70" x2="1244.60" y2="1387.95" stroke="#1a1a1a" stroke-width="1.5"/>
<line x1="1384.00" y1="1250.70" x2="1384.00" y2="1387.95" stroke="#1a1a1a" stroke-width="1.5"/>
<line x1="1524.30" y1="1250.70" x2="1524.30" y2="1387.95" stroke="#1a1a1a" stroke-width="1.5"/>
<rect x="965.95" y="1250.70" width="699.05" height="137.25" fill="none" stroke="#000" stroke-width="2.2"/>
<text transform="translate(1009.37,1279.50) scale(0.9842,1)" font-size="31.2">MV</text>
<text transform="translate(999.38,1309.70) scale(1.0217,1)" font-size="31.2" font-style="italic">S.pn.</text>
<text transform="translate(971.71,1344.70) scale(0.9393,1)" font-size="31.2">Ampicillin</text>
<text transform="translate(969.16,1380.20) scale(0.9632,1)" font-size="31.2">Vasculotid</text>
<text x="1164.64" y="1277.51" font-size="31.90" font-weight="bold">-</text>
<text x="1300.39" y="1281.91" font-size="39.34" stroke="#fff" stroke-width="0.37">+</text>
<text x="1440.89" y="1283.91" font-size="39.34" stroke="#fff" stroke-width="0.37">+</text>
<text x="1581.14" y="1281.91" font-size="39.34" stroke="#fff" stroke-width="0.37">+</text>
<text x="1164.64" y="1312.51" font-size="31.90" font-weight="bold">-</text>
<text x="1300.39" y="1319.91" font-size="39.34" stroke="#fff" stroke-width="0.37">+</text>
<text x="1440.89" y="1318.91" font-size="39.34" stroke="#fff" stroke-width="0.37">+</text>
<text x="1581.14" y="1316.66" font-size="39.34" stroke="#fff" stroke-width="0.37">+</text>
<text x="1164.64" y="1347.01" font-size="31.90" font-weight="bold">-</text>
<text x="1306.14" y="1347.01" font-size="31.90" font-weight="bold">-</text>
<text x="1440.89" y="1353.91" font-size="39.34" stroke="#fff" stroke-width="0.37">+</text>
<text x="1581.14" y="1353.91" font-size="39.34" stroke="#fff" stroke-width="0.37">+</text>
<text x="1162.64" y="1383.26" font-size="31.90" font-weight="bold">-</text>
<text x="1306.14" y="1383.26" font-size="31.90" font-weight="bold">-</text>
<text x="1447.64" y="1384.51" font-size="31.90" font-weight="bold">-</text>
<text x="1582.64" y="1389.16" font-size="39.34" stroke="#fff" stroke-width="0.37">+</text>
<text transform="translate(968.83,1415.00)" font-size="30">e</text>
</g>
<g id="legend">
<rect x="24.6" y="1449.4" width="304.8" height="122.8" fill="#fff" stroke="#000" stroke-width="2.1"/>
<rect x="57" y="1467" width="29.5" height="29" fill="#626262" stroke="#111" stroke-width="2"/>
<rect x="57" y="1528.6" width="29.5" height="29.2" fill="#d5d5d5" stroke="#111" stroke-width="2"/>
<text transform="translate(115.38,1497.80) scale(0.9902,1)" font-size="41">Solvent</text>
<text transform="translate(116.86,1560.00) scale(0.9373,1)" font-size="41.5">Vasculotide</text>
</g>
</svg>
</body></html>
